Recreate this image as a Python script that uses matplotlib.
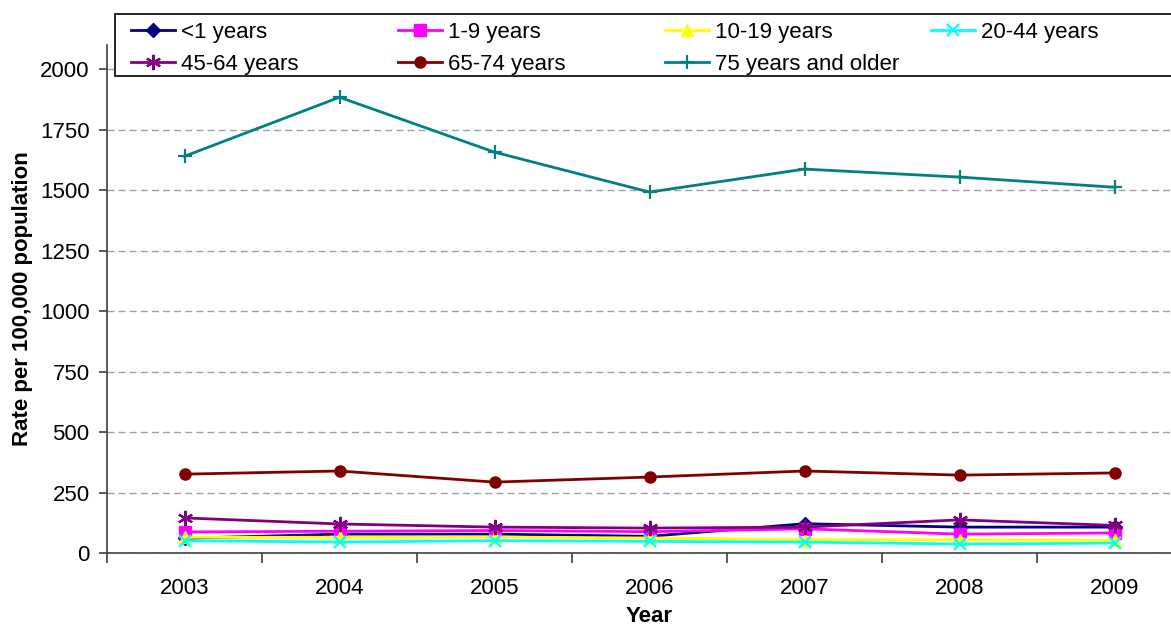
import numpy as np
import matplotlib.pyplot as plt
from matplotlib.patches import Rectangle

plt.rcParams['font.family'] = ['Liberation Sans', 'DejaVu Sans']

years = ['2003', '2004', '2005', '2006', '2007', '2008', '2009']

under_1 = [61, 78, 78, 69, 121, 107, 107]
age_1_9 = [87, 90, 93, 88, 100, 78, 83]
age_10_19 = [65, 65, 66, 62, 55, 55, 52]
age_20_44 = [51, 45, 51, 48, 45, 37, 41]
age_45_64 = [145, 120, 107, 103, 107, 137, 114]
age_65_74 = [326, 339, 293, 314, 339, 322, 331]
age_75_plus = [1640, 1884, 1657, 1492, 1587, 1554, 1512]

series = [
    ('<1 years', under_1, '#000080', 'D', 7),
    ('1-9 years', age_1_9, '#FF00FF', 's', 8),
    ('10-19 years', age_10_19, '#FFFF00', '^', 8),
    ('20-44 years', age_20_44, '#00FFFF', 'x', 8),
    ('45-64 years', age_45_64, '#800080', (6, 2, 0), 11),
    ('65-74 years', age_65_74, '#800000', 'o', 8),
    ('75 years and older', age_75_plus, '#008080', '+', 10),
]

W, H = 1171, 625
fig = plt.figure(figsize=(W / 100, H / 100), dpi=100)
# plot area runs past the right edge of the picture, as in the reference
ax = fig.add_axes([107 / W, (H - 553) / H, 1085 / W, 508 / H])

x = np.arange(len(years))
handles = []
for label, vals, color, marker, ms in series:
    line, = ax.plot(x, vals, color=color, marker=marker, markersize=ms, linewidth=2,
                    markeredgewidth=1.6 if marker in ('x', '+', (6, 2, 0)) else 1,
                    markeredgecolor=color, label=label)
    handles.append(line)

ax.set_xlim(-0.5, 6.5)
ax.set_ylim(0, 2100)
ax.set_yticks(np.arange(0, 2001, 250))
ax.yaxis.grid(True, linestyle=(0, (5, 3)), color='#a0a0a0', linewidth=1)
ax.set_axisbelow(True)

ax.set_xticks(x)
ax.set_xticklabels(years)
ax.set_xticks(np.arange(-0.5, 7, 1), minor=True)
ax.tick_params(axis='x', which='major', length=0, pad=18, labelsize=16)
ax.tick_params(axis='x', which='minor', length=7, width=1.2, direction='out', color='#404040')
ax.tick_params(axis='y', length=5.5, width=1.2, color='#404040', labelsize=16, pad=7)

for side in ('top', 'right'):
    ax.spines[side].set_visible(False)
for side in ('left', 'bottom'):
    ax.spines[side].set_color('#404040')
    ax.spines[side].set_linewidth(1.2)

ax.set_xlabel('Year', fontsize=16, fontweight='bold', labelpad=5)
ax.set_ylabel('Rate per 100,000 population', fontsize=16, fontweight='bold', labelpad=5)

# legend box: white, black border, covering the top gridline
fig.patches.append(Rectangle((115 / W, 1 - 76 / H), 1100 / W, 62 / H, transform=fig.transFigure,
                             facecolor='white', edgecolor='black', linewidth=1.2, zorder=3))

# one legend per column so the columns sit on an even grid
columns = [[0, 4], [1, 5], [2, 6], [3]]
col_x = [131, 398, 665, 931]
for idx, cx in zip(columns, col_x):
    leg = fig.legend([handles[i] for i in idx], [series[i][0] for i in idx],
                     loc='upper left', bbox_to_anchor=(cx / W, 1 - 22 / H), frameon=False,
                     fontsize=16, borderpad=0, borderaxespad=0, handlelength=2.0,
                     handletextpad=0.25, labelspacing=0.48)
    leg.set_zorder(4)

fig.savefig('out.png', dpi=100)
